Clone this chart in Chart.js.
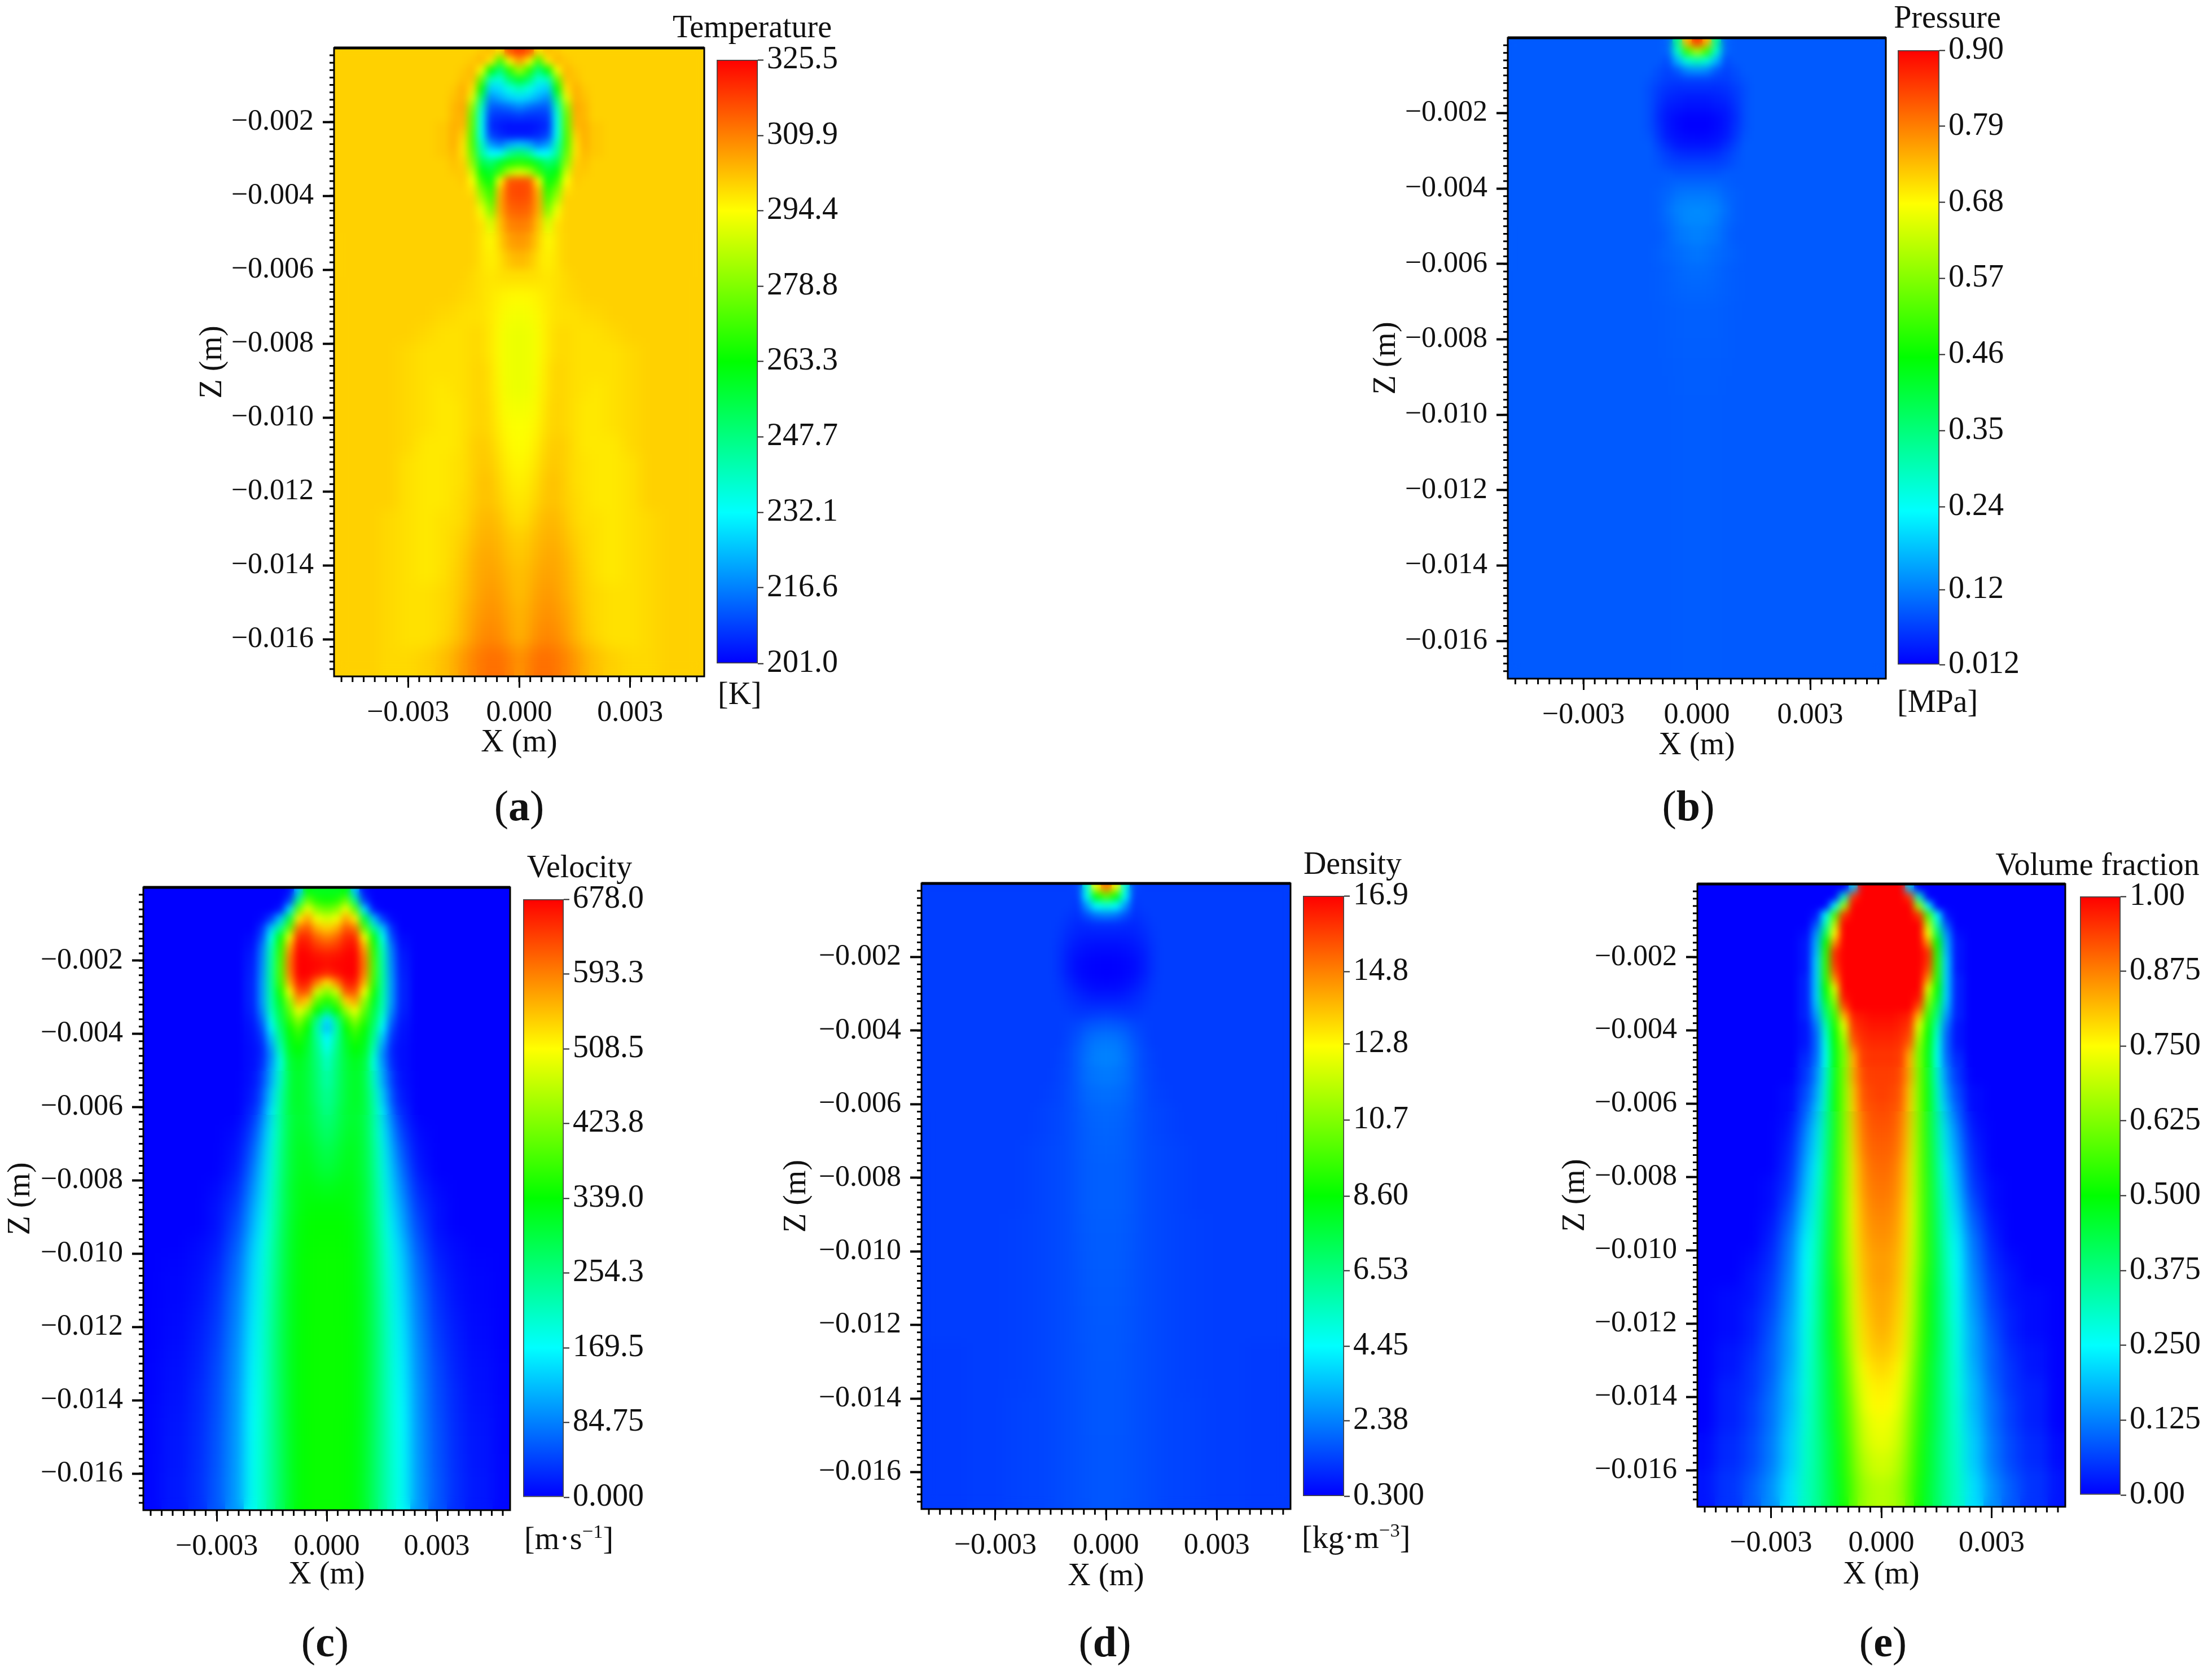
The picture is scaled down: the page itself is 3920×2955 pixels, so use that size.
<!DOCTYPE html>
<html>
<head>
<meta charset="utf-8">
<style>
    html, body { margin: 0; padding: 0; background: #fff; }
    body { position: relative; width: 3920px; height: 2955px; overflow: hidden; font-family: "Liberation Serif", serif; color: #111; }
    canvas { position: absolute; }
    .txt { position: absolute; white-space: nowrap; line-height: 1; }
    .txt sup { font-size: 0.62em; line-height: 0; }
</style>
<script src="https://cdn.jsdelivr.net/npm/chart.js@4/dist/chart.umd.min.js"></script>
</head>
<body>
<script>
// half of the field (the jet is symmetric around x = 0)
const xCols = [0, 0.00025, 0.0005, 0.00075, 0.001, 0.00125, 0.0015, 0.00175, 0.002, 0.0025, 0.003, 0.0035, 0.004, 0.005];
const zRows = [-0.000125, -0.000375, -0.000625, -0.000875, -0.001125, -0.001375, -0.001625, -0.001875, -0.002125, -0.002375,
    -0.002625, -0.002875, -0.003125, -0.003375, -0.003625, -0.003875, -0.004125, -0.004375, -0.004625, -0.004875,
    -0.00525, -0.00575, -0.00625, -0.00675, -0.00725, -0.00775, -0.00825, -0.00875, -0.00925, -0.00975, -0.01025, -0.01075,
    -0.01125, -0.01175, -0.01225, -0.01275, -0.01325, -0.01375, -0.01425, -0.01475, -0.01525, -0.01575, -0.01625, -0.01675];

// a row can stop early: the last number holds out to the edge of the plot
const temperature = [
    [318, 315, 298, 302, 301, 300],
    [306, 295, 270, 297, 303, 301, 300],
    [282, 268, 248, 262, 293, 303, 301, 300],
    [258, 250, 236, 240, 275, 302, 302, 300],
    [240, 235, 228, 226, 262, 298, 304, 301, 300],
    [228, 226, 222, 218, 250, 290, 304, 302, 300],
    [217, 214, 212, 212, 240, 280, 305, 303, 300],
    [208, 207, 207, 208, 235, 275, 304, 303, 300],
    [203, 203, 204, 206, 234, 274, 303, 304, 301, 300],
    [204, 204, 206, 209, 234, 272, 300, 304, 301, 300],
    [225, 222, 215, 220, 240, 272, 298, 304, 301, 300],
    [250, 245, 232, 232, 245, 275, 298, 303, 301, 300],
    [268, 266, 258, 250, 255, 280, 300, 302, 300],
    [290, 285, 270, 258, 262, 288, 301, 301, 300],
    [316, 315, 295, 262, 270, 294, 301, 300],
    [317, 316, 303, 268, 278, 298, 300],
    [316, 315, 305, 272, 285, 300],
    [314, 313, 305, 278, 292, 300],
    [312, 311, 303, 285, 296, 300],
    [310, 309, 302, 290, 298, 300],
    [307, 306, 300, 294, 298, 300],
    [303, 302, 298, 296, 298, 300],
    [298, 298, 298, 297, 298, 299, 300],
    [295, 295, 296, 297, 298, 299, 299, 300],
    [293, 293, 295, 297, 298, 298, 298, 299, 299, 300],
    [292, 292, 294, 297, 299, 299, 298, 298, 298, 299, 300],
    [292, 292, 294, 297, 299, 299, 298, 298, 298, 298, 299, 300],
    [292, 292, 294, 298, 300, 299, 298, 298, 298, 298, 299, 300],
    [292, 292, 295, 298, 300, 299, 298, 298, 297, 298, 299, 300],
    [293, 293, 295, 299, 300, 299, 298, 297, 297, 298, 299, 300],
    [294, 294, 296, 299, 300, 299, 298, 297, 297, 298, 299, 300],
    [294, 295, 297, 300, 301, 300, 298, 297, 297, 297, 299, 300],
    [295, 296, 298, 301, 301, 300, 298, 298, 297, 297, 298, 300],
    [296, 297, 299, 302, 302, 300, 298, 298, 297, 297, 298, 300],
    [297, 298, 300, 302, 302, 300, 299, 298, 297, 297, 298, 300],
    [298, 299, 302, 303, 303, 301, 299, 298, 298, 297, 298, 299, 300],
    [300, 301, 303, 304, 304, 302, 300, 299, 298, 297, 298, 299, 300],
    [301, 302, 304, 305, 305, 303, 301, 299, 298, 297, 298, 299, 300],
    [302, 303, 305, 306, 305, 304, 301, 300, 298, 297, 298, 299, 300],
    [302, 304, 306, 307, 306, 304, 302, 300, 299, 298, 298, 299, 300],
    [303, 305, 307, 308, 307, 305, 303, 300, 299, 298, 298, 299, 300],
    [303, 306, 308, 309, 308, 306, 303, 301, 299, 298, 298, 299, 300],
    [304, 307, 309, 310, 309, 307, 304, 302, 300, 298, 298, 299, 300],
    [307, 310, 312, 312, 311, 309, 307, 304, 302, 300, 299, 299, 300]
];

const pressure = [
    [0.85, 0.74, 0.33, 0.1, 0.09],
    [0.6, 0.5, 0.28, 0.1, 0.09],
    [0.3, 0.27, 0.17, 0.08, 0.09],
    [0.14, 0.13, 0.09, 0.07, 0.08, 0.09],
    [0.07, 0.07, 0.065, 0.065, 0.075, 0.085, 0.09],
    [0.05, 0.05, 0.05, 0.055, 0.065, 0.08, 0.09],
    [0.035, 0.035, 0.04, 0.045, 0.06, 0.08, 0.09],
    [0.025, 0.025, 0.03, 0.035, 0.055, 0.08, 0.09],
    [0.015, 0.015, 0.02, 0.03, 0.05, 0.08, 0.09],
    [0.012, 0.012, 0.02, 0.03, 0.055, 0.08, 0.09],
    [0.018, 0.02, 0.025, 0.035, 0.06, 0.085, 0.09],
    [0.03, 0.03, 0.035, 0.05, 0.07, 0.09],
    [0.05, 0.05, 0.055, 0.065, 0.08, 0.09],
    [0.07, 0.07, 0.07, 0.075, 0.085, 0.09],
    [0.085, 0.085, 0.085, 0.09],
    [0.1, 0.1, 0.1, 0.095, 0.09],
    [0.115, 0.115, 0.11, 0.1, 0.095, 0.09],
    [0.125, 0.125, 0.12, 0.105, 0.095, 0.09],
    [0.135, 0.13, 0.125, 0.11, 0.095, 0.09],
    [0.13, 0.13, 0.12, 0.105, 0.095, 0.09],
    [0.125, 0.12, 0.115, 0.1, 0.09],
    [0.115, 0.11, 0.105, 0.1, 0.095, 0.09],
    [0.105, 0.105, 0.1, 0.095, 0.092, 0.09],
    [0.1, 0.1, 0.098, 0.095, 0.092, 0.09],
    [0.096, 0.096, 0.095, 0.093, 0.091, 0.09],
    [0.095, 0.095, 0.094, 0.092, 0.09],
    [0.094, 0.094, 0.093, 0.092, 0.09],
    [0.093, 0.093, 0.092, 0.091, 0.09],
    [0.093, 0.093, 0.092, 0.09],
    [0.092, 0.092, 0.091, 0.09],
    [0.092, 0.092, 0.091, 0.09],
    [0.092, 0.092, 0.091, 0.09],
    [0.092, 0.092, 0.091, 0.09],
    [0.092, 0.092, 0.091, 0.09],
    [0.092, 0.092, 0.091, 0.09],
    [0.092, 0.092, 0.091, 0.09],
    [0.092, 0.092, 0.091, 0.09],
    [0.092, 0.092, 0.091, 0.09],
    [0.092, 0.092, 0.091, 0.09],
    [0.092, 0.092, 0.091, 0.09],
    [0.092, 0.092, 0.091, 0.09],
    [0.092, 0.092, 0.091, 0.09],
    [0.092, 0.092, 0.091, 0.09],
    [0.092, 0.092, 0.091, 0.09]
];

const velocity = [
    [320, 320, 330, 130, 10, 0],
    [350, 360, 410, 250, 40, 0],
    [410, 430, 500, 400, 150, 15, 0],
    [480, 500, 570, 520, 300, 130, 40, 5, 0],
    [540, 560, 620, 600, 400, 240, 130, 30, 0],
    [590, 610, 650, 650, 500, 330, 180, 50, 5, 0],
    [630, 640, 665, 670, 560, 360, 210, 75, 10, 0],
    [660, 665, 675, 678, 590, 375, 225, 85, 15, 0],
    [670, 675, 678, 678, 600, 385, 230, 90, 18, 0],
    [650, 665, 678, 678, 590, 385, 235, 95, 20, 0],
    [530, 590, 660, 660, 560, 375, 235, 100, 22, 0],
    [430, 480, 620, 625, 500, 350, 230, 100, 22, 0],
    [360, 400, 540, 570, 440, 320, 225, 100, 22, 0],
    [280, 340, 440, 500, 400, 300, 215, 90, 20, 0],
    [150, 260, 370, 440, 370, 285, 190, 70, 15, 0],
    [130, 230, 340, 390, 345, 265, 160, 50, 12, 0],
    [165, 240, 320, 360, 330, 245, 130, 35, 10, 0],
    [185, 250, 310, 340, 320, 225, 105, 25, 8, 0],
    [205, 255, 305, 330, 310, 205, 90, 25, 8, 0],
    [215, 260, 300, 320, 300, 195, 100, 30, 8, 0],
    [225, 265, 300, 315, 300, 205, 115, 40, 10, 0],
    [240, 270, 300, 315, 300, 225, 140, 55, 15, 0],
    [250, 280, 305, 310, 300, 235, 160, 75, 25, 0],
    [265, 290, 310, 315, 300, 240, 170, 100, 40, 5, 0],
    [285, 300, 320, 320, 300, 250, 180, 120, 55, 10, 0],
    [300, 310, 325, 320, 300, 255, 185, 135, 70, 15, 0],
    [320, 325, 330, 325, 305, 260, 195, 145, 85, 25, 5, 0],
    [335, 335, 335, 325, 305, 260, 205, 155, 100, 35, 10, 0],
    [340, 340, 340, 330, 310, 265, 210, 165, 110, 45, 10, 0],
    [342, 342, 340, 332, 312, 270, 220, 175, 125, 55, 15, 5, 0],
    [345, 344, 342, 333, 313, 272, 225, 180, 135, 65, 22, 8, 2, 0],
    [345, 344, 342, 333, 314, 275, 228, 185, 140, 72, 28, 10, 3, 0],
    [345, 345, 342, 335, 315, 278, 232, 188, 145, 78, 32, 12, 4, 0],
    [345, 345, 342, 335, 315, 278, 235, 190, 150, 82, 36, 15, 5, 0],
    [345, 345, 343, 335, 316, 280, 238, 192, 155, 86, 40, 18, 6, 0],
    [345, 345, 343, 336, 316, 280, 238, 195, 158, 90, 44, 20, 8, 1],
    [345, 345, 343, 336, 316, 280, 238, 197, 162, 92, 48, 22, 9, 2],
    [345, 345, 343, 336, 315, 278, 238, 198, 165, 95, 50, 25, 10, 2],
    [345, 345, 343, 336, 315, 278, 238, 200, 168, 96, 52, 26, 12, 3],
    [345, 345, 342, 336, 314, 277, 238, 202, 170, 97, 54, 27, 13, 3],
    [345, 345, 342, 335, 313, 276, 238, 203, 172, 98, 55, 28, 14, 3],
    [345, 345, 342, 335, 313, 275, 238, 204, 173, 99, 56, 29, 14, 4],
    [345, 345, 342, 335, 312, 275, 238, 205, 175, 100, 58, 30, 15, 4],
    [345, 345, 342, 335, 312, 275, 238, 205, 175, 100, 58, 30, 15, 4]
];

const density = [
    [15, 12.5, 5, 1.4, 1.3],
    [10, 8.5, 4.5, 1.3],
    [5, 4.5, 2.8, 1.2, 1.3],
    [2.4, 2.2, 1.6, 1.1, 1.2, 1.3],
    [1.1, 1.1, 1, 0.95, 1.1, 1.25, 1.3],
    [0.8, 0.8, 0.8, 0.85, 1, 1.2, 1.3],
    [0.6, 0.6, 0.62, 0.7, 0.9, 1.15, 1.3],
    [0.45, 0.45, 0.5, 0.6, 0.8, 1.1, 1.3],
    [0.33, 0.35, 0.4, 0.5, 0.75, 1.1, 1.3],
    [0.3, 0.32, 0.38, 0.5, 0.75, 1.1, 1.3],
    [0.35, 0.38, 0.45, 0.6, 0.85, 1.15, 1.3],
    [0.5, 0.5, 0.6, 0.75, 1, 1.2, 1.3],
    [0.75, 0.75, 0.8, 0.95, 1.1, 1.25, 1.3],
    [1.05, 1.05, 1.05, 1.1, 1.2, 1.3],
    [1.4, 1.35, 1.3, 1.25, 1.3],
    [1.8, 1.75, 1.65, 1.45, 1.35, 1.3],
    [2.1, 2.05, 1.9, 1.6, 1.4, 1.3],
    [2.3, 2.25, 2.05, 1.7, 1.45, 1.3],
    [2.4, 2.35, 2.1, 1.8, 1.5, 1.35, 1.3],
    [2.4, 2.35, 2.15, 1.8, 1.5, 1.35, 1.3],
    [2.3, 2.2, 2.1, 1.8, 1.5, 1.4, 1.3],
    [2.1, 2.05, 2, 1.75, 1.55, 1.4, 1.35, 1.3],
    [2, 1.95, 1.9, 1.7, 1.55, 1.45, 1.4, 1.35, 1.3],
    [1.95, 1.9, 1.85, 1.7, 1.55, 1.45, 1.4, 1.35, 1.3],
    [1.9, 1.88, 1.82, 1.7, 1.55, 1.5, 1.45, 1.4, 1.35, 1.3],
    [1.85, 1.85, 1.8, 1.7, 1.55, 1.5, 1.45, 1.4, 1.35, 1.3],
    [1.85, 1.85, 1.8, 1.7, 1.55, 1.5, 1.45, 1.4, 1.35, 1.3],
    [1.85, 1.85, 1.8, 1.7, 1.55, 1.5, 1.45, 1.4, 1.35, 1.3],
    [1.82, 1.82, 1.78, 1.68, 1.55, 1.5, 1.45, 1.4, 1.38, 1.32, 1.3],
    [1.8, 1.8, 1.76, 1.66, 1.55, 1.5, 1.45, 1.4, 1.38, 1.32, 1.3],
    [1.8, 1.8, 1.75, 1.65, 1.55, 1.5, 1.45, 1.4, 1.38, 1.32, 1.3],
    [1.78, 1.78, 1.74, 1.64, 1.55, 1.5, 1.45, 1.4, 1.38, 1.33, 1.3],
    [1.76, 1.76, 1.72, 1.63, 1.55, 1.5, 1.45, 1.4, 1.38, 1.33, 1.3],
    [1.75, 1.75, 1.7, 1.62, 1.55, 1.5, 1.45, 1.4, 1.38, 1.33, 1.3],
    [1.74, 1.74, 1.7, 1.62, 1.55, 1.5, 1.45, 1.4, 1.38, 1.33, 1.3],
    [1.73, 1.73, 1.68, 1.61, 1.55, 1.5, 1.45, 1.4, 1.38, 1.33, 1.3, 1.3, 1.25],
    [1.72, 1.72, 1.68, 1.61, 1.55, 1.5, 1.45, 1.4, 1.38, 1.33, 1.3, 1.3, 1.25],
    [1.72, 1.72, 1.67, 1.6, 1.55, 1.5, 1.45, 1.4, 1.38, 1.34, 1.3, 1.3, 1.25],
    [1.71, 1.71, 1.66, 1.6, 1.55, 1.5, 1.45, 1.4, 1.4, 1.35, 1.3, 1.3, 1.25],
    [1.71, 1.71, 1.66, 1.6, 1.55, 1.5, 1.45, 1.4, 1.4, 1.35, 1.3, 1.3, 1.25],
    [1.7, 1.7, 1.65, 1.6, 1.55, 1.5, 1.45, 1.4, 1.4, 1.35, 1.3, 1.3, 1.25],
    [1.7, 1.7, 1.65, 1.6, 1.55, 1.5, 1.45, 1.4, 1.4, 1.35, 1.3, 1.3, 1.25],
    [1.7, 1.7, 1.65, 1.6, 1.55, 1.5, 1.45, 1.4, 1.4, 1.35, 1.3, 1.3, 1.25],
    [1.7, 1.7, 1.65, 1.6, 1.55, 1.5, 1.45, 1.4, 1.4, 1.35, 1.3, 1.3, 1.25]
];

const fraction = [
    [1, 1, 1, 0.2, 0],
    [1, 1, 1, 0.95, 0.3, 0],
    [1, 1, 1, 1, 0.65, 0.25, 0],
    [1, 1, 1, 1, 0.95, 0.57, 0.25, 0.02, 0],
    [1, 1, 1, 1, 1, 0.68, 0.33, 0.08, 0],
    [1, 1, 1, 1, 1, 0.75, 0.42, 0.14, 0.01, 0],
    [1, 1, 1, 1, 1, 0.85, 0.5, 0.17, 0.02, 0],
    [1, 1, 1, 1, 1, 0.95, 0.53, 0.18, 0.02, 0],
    [1, 1, 1, 1, 1, 0.95, 0.54, 0.2, 0.02, 0],
    [1, 1, 1, 1, 1, 0.92, 0.54, 0.2, 0.02, 0],
    [1, 1, 1, 1, 1, 0.85, 0.53, 0.2, 0.03, 0],
    [1, 1, 1, 1, 1, 0.72, 0.5, 0.2, 0.03, 0],
    [1, 1, 1, 1, 0.98, 0.66, 0.47, 0.2, 0.03, 0],
    [1, 1, 1, 1, 0.92, 0.6, 0.42, 0.18, 0.03, 0],
    [0.99, 0.99, 0.98, 0.97, 0.82, 0.55, 0.38, 0.15, 0.03, 0],
    [0.98, 0.98, 0.97, 0.95, 0.72, 0.52, 0.33, 0.12, 0.02, 0],
    [0.97, 0.97, 0.96, 0.93, 0.68, 0.5, 0.3, 0.1, 0.02, 0],
    [0.96, 0.96, 0.95, 0.9, 0.64, 0.49, 0.28, 0.1, 0.02, 0],
    [0.95, 0.95, 0.94, 0.85, 0.62, 0.48, 0.27, 0.1, 0.03, 0],
    [0.95, 0.95, 0.94, 0.83, 0.62, 0.48, 0.27, 0.11, 0.04, 0],
    [0.94, 0.94, 0.93, 0.83, 0.62, 0.49, 0.28, 0.13, 0.05, 0],
    [0.94, 0.93, 0.92, 0.8, 0.62, 0.5, 0.3, 0.16, 0.07, 0.01, 0],
    [0.93, 0.92, 0.91, 0.79, 0.62, 0.5, 0.32, 0.19, 0.09, 0.01, 0],
    [0.92, 0.91, 0.9, 0.78, 0.62, 0.5, 0.33, 0.22, 0.12, 0.02, 0],
    [0.91, 0.9, 0.89, 0.77, 0.62, 0.51, 0.35, 0.23, 0.14, 0.03, 0],
    [0.9, 0.89, 0.87, 0.76, 0.62, 0.51, 0.37, 0.25, 0.16, 0.04, 0],
    [0.89, 0.88, 0.86, 0.76, 0.62, 0.52, 0.38, 0.27, 0.18, 0.05, 0.01, 0],
    [0.88, 0.87, 0.85, 0.75, 0.62, 0.52, 0.39, 0.29, 0.2, 0.07, 0.01, 0],
    [0.87, 0.86, 0.84, 0.75, 0.62, 0.52, 0.4, 0.3, 0.22, 0.09, 0.02, 0],
    [0.86, 0.85, 0.83, 0.74, 0.62, 0.52, 0.41, 0.31, 0.24, 0.11, 0.03, 0],
    [0.85, 0.84, 0.82, 0.73, 0.62, 0.52, 0.42, 0.32, 0.25, 0.12, 0.04, 0.01, 0],
    [0.85, 0.84, 0.81, 0.72, 0.61, 0.51, 0.42, 0.33, 0.25, 0.13, 0.05, 0.02, 0],
    [0.84, 0.83, 0.8, 0.72, 0.6, 0.5, 0.42, 0.34, 0.26, 0.14, 0.06, 0.02, 0.01, 0],
    [0.84, 0.82, 0.79, 0.71, 0.6, 0.5, 0.42, 0.34, 0.26, 0.15, 0.07, 0.03, 0.01, 0],
    [0.83, 0.81, 0.78, 0.7, 0.59, 0.5, 0.42, 0.35, 0.27, 0.16, 0.08, 0.03, 0.01, 0],
    [0.81, 0.8, 0.77, 0.69, 0.58, 0.49, 0.42, 0.35, 0.27, 0.16, 0.09, 0.04, 0.02, 0],
    [0.79, 0.78, 0.75, 0.67, 0.57, 0.48, 0.41, 0.35, 0.28, 0.17, 0.09, 0.05, 0.02, 0],
    [0.77, 0.76, 0.73, 0.66, 0.56, 0.48, 0.41, 0.35, 0.28, 0.18, 0.1, 0.05, 0.03, 0],
    [0.76, 0.75, 0.72, 0.64, 0.55, 0.47, 0.41, 0.35, 0.29, 0.18, 0.11, 0.06, 0.03, 0],
    [0.74, 0.73, 0.7, 0.63, 0.54, 0.47, 0.41, 0.35, 0.29, 0.19, 0.11, 0.06, 0.03, 0],
    [0.73, 0.72, 0.69, 0.62, 0.53, 0.46, 0.4, 0.35, 0.3, 0.2, 0.12, 0.07, 0.04, 0.01],
    [0.71, 0.7, 0.67, 0.61, 0.52, 0.46, 0.4, 0.35, 0.3, 0.2, 0.12, 0.07, 0.04, 0.01],
    [0.7, 0.69, 0.66, 0.6, 0.52, 0.46, 0.4, 0.35, 0.31, 0.21, 0.13, 0.08, 0.05, 0.02],
    [0.68, 0.67, 0.65, 0.59, 0.51, 0.45, 0.4, 0.35, 0.31, 0.22, 0.14, 0.09, 0.05, 0.02]
];

const xTicks = [-0.003, 0, 0.003];
const zTicks = [-0.002, -0.004, -0.006, -0.008, -0.01, -0.012, -0.014, -0.016];
const temperatureTicks = ["325.5", "309.9", "294.4", "278.8", "263.3", "247.7", "232.1", "216.6", "201.0"];
const pressureTicks = ["0.90", "0.79", "0.68", "0.57", "0.46", "0.35", "0.24", "0.12", "0.012"];
const velocityTicks = ["678.0", "593.3", "508.5", "423.8", "339.0", "254.3", "169.5", "84.75", "0.000"];
const densityTicks = ["16.9", "14.8", "12.8", "10.7", "8.60", "6.53", "4.45", "2.38", "0.300"];
const fractionTicks = ["1.00", "0.875", "0.750", "0.625", "0.500", "0.375", "0.250", "0.125", "0.00"];

// where each panel sits on the page
const panels = [
    { field: temperature, ticks: temperatureTicks, plot: [592, 1248, 85, 1199], bar: [1270, 1343, 106, 1176], zX: 377, xY: 1317, title: "Temperature", titleAt: [1333, 47], unit: "[K]", unitAt: [1272, 1229], cap: "a", capAt: [920, 1428] },
    { field: pressure, ticks: pressureTicks, plot: [2672, 3342, 67, 1203], bar: [3363, 3437, 89, 1178], zX: 2457, xY: 1322, title: "Pressure", titleAt: [3451, 30], unit: "[MPa]", unitAt: [3362, 1243], cap: "b", capAt: [2992, 1428] },
    { field: velocity, ticks: velocityTicks, plot: [254, 904, 1573, 2677], bar: [927, 999, 1594, 2654], zX: 37, xY: 2792, title: "Velocity", titleAt: [1027, 1536], unit: "[m·s<sup>−1</sup>]", unitAt: [929, 2727], cap: "c", capAt: [576, 2910] },
    { field: density, ticks: densityTicks, plot: [1633, 2287, 1566, 2675], bar: [2309, 2382, 1588, 2652], zX: 1412, xY: 2795, title: "Density", titleAt: [2397, 1530], unit: "[kg·m<sup>−3</sup>]", unitAt: [2307, 2725], cap: "d", capAt: [1958, 2910] },
    { field: fraction, ticks: fractionTicks, plot: [3008, 3660, 1567, 2671], bar: [3686, 3758, 1589, 2650], zX: 2792, xY: 2792, title: "Volume fraction", titleAt: [3717, 1532], unit: "", unitAt: [3686, 2727], cap: "e", capAt: [3337, 2910] }
];

const FONT = "'Liberation Serif', serif";
const INK = "#111";

// rainbow colour map of the plots: blue, cyan, green, yellow, red
function rainbow(t) {
    t = Math.min(1, Math.max(0, t));
    let r = 0, g = 0, b = 0;
    if (t < 0.25) { g = t / 0.25; b = 1; }
    else if (t < 0.5) { g = 1; b = 1 - (t - 0.25) / 0.25; }
    else if (t < 0.75) { r = (t - 0.5) / 0.25; g = 1; }
    else { r = 1; g = 1 - (t - 0.75) / 0.25; }
    return `rgb(${Math.round(r * 255)},${Math.round(g * 255)},${Math.round(b * 255)})`;
}

// one small canvas per colour and size, Chart.js draws these as point styles
const cellCache = {};
function cellImage(color, w, h) {
    const key = color + "|" + w + "|" + h;
    if (!cellCache[key]) {
        const c = document.createElement("canvas");
        c.width = w;
        c.height = h;
        const g = c.getContext("2d");
        g.fillStyle = color;
        g.fillRect(0, 0, w, h);
        cellCache[key] = c;
    }
    return cellCache[key];
}

function halfSizes(centers, lastHalf) {
    // images are centred on the point, so take the larger gap to a neighbour
    return centers.map((c, i) => {
        const before = i === 0 ? 0 : Math.abs(c - centers[i - 1]) / 2;
        const after = i === centers.length - 1 ? lastHalf : Math.abs(centers[i + 1] - c) / 2;
        return Math.max(before, after);
    });
}

function cellsFor(field) {
    const points = [];
    const xHalf = halfSizes(xCols, 0.0005);
    const zHalf = halfSizes(zRows, 0.0005);
    field.forEach((row, r) => {
        xCols.forEach((x, c) => {
            const v = c < row.length ? row[c] : row[row.length - 1];
            points.push({ x: x, y: zRows[r], v: v, hx: xHalf[c], hz: zHalf[r] });
            if (x !== 0) {
                points.push({ x: -x, y: zRows[r], v: v, hx: xHalf[c], hz: zHalf[r] });
            }
        });
    });
    // far cells first so the finer ones near the axis stay on top
    return points.sort((a, b) => Math.abs(b.x) - Math.abs(a.x));
}

// the picture is smooth, so soften the cells after the library has drawn them
const smoothCells = {
    id: "smoothCells",
    afterDatasetsDraw(chart) {
        const a = chart.chartArea;
        const w = Math.round(a.right - a.left);
        const h = Math.round(a.bottom - a.top);
        const copy = document.createElement("canvas");
        copy.width = w;
        copy.height = h;
        copy.getContext("2d").drawImage(chart.canvas, a.left, a.top, w, h, 0, 0, w, h);
        const y5 = chart.scales.y.getPixelForValue(-0.005);
        const y6 = chart.scales.y.getPixelForValue(-0.0062);
        const ctx = chart.ctx;
        [[a.top, y5, 7], [y5, y6, 9], [y6, a.bottom, 12]].forEach(zone => {
            ctx.save();
            ctx.beginPath();
            ctx.rect(a.left, zone[0], w, zone[1] - zone[0]);
            ctx.clip();
            ctx.filter = `blur(${zone[2]}px)`;
            ctx.drawImage(copy, a.left, a.top);
            ctx.restore();
        });
    }
};

// frame around the plot and the small ticks between the labelled ones
const frameAndMinorTicks = {
    id: "frameAndMinorTicks",
    afterDraw(chart) {
        const a = chart.chartArea;
        const ctx = chart.ctx;
        ctx.save();
        ctx.strokeStyle = "#000";
        ctx.lineWidth = 3;
        ctx.strokeRect(a.left, a.top, a.right - a.left, a.bottom - a.top);
        ctx.lineWidth = 5;
        ctx.beginPath();
        ctx.moveTo(a.left, a.top);
        ctx.lineTo(a.right, a.top);
        ctx.stroke();

        ctx.lineWidth = 3;
        ctx.beginPath();
        for (let i = -16; i <= 16; i++) {
            const px = chart.scales.x.getPixelForValue(i * 0.0003);
            ctx.moveTo(px, a.bottom);
            ctx.lineTo(px, a.bottom + 10);
        }
        for (let i = 1; i <= 84; i++) {
            const py = chart.scales.y.getPixelForValue(-i * 0.0002);
            ctx.moveTo(a.left, py);
            ctx.lineTo(a.left - 8, py);
        }
        ctx.stroke();
        ctx.restore();
    }
};

function addCanvas(left, top, width, height) {
    const c = document.createElement("canvas");
    c.width = width;
    c.height = height;
    c.style.left = left + "px";
    c.style.top = top + "px";
    document.body.appendChild(c);
    return c;
}

function addText(html, x, y, size, centered) {
    const d = document.createElement("div");
    d.className = "txt";
    d.innerHTML = html;
    d.style.left = x + "px";
    d.style.top = y + "px";
    d.style.fontSize = size + "px";
    d.style.transform = centered ? "translate(-50%, -50%)" : "translateY(-50%)";
    document.body.appendChild(d);
}

function drawField(p) {
    const min = parseFloat(p.ticks[p.ticks.length - 1]);
    const max = parseFloat(p.ticks[0]);
    const left = p.plot[0], right = p.plot[1], top = p.plot[2], bottom = p.plot[3];
    const wide = left - p.zX + 32;
    const tall = p.xY - bottom + 32;
    const canvas = addCanvas(left - wide, top - 10, wide + right - left + 6, bottom - top + 10 + tall);

    new Chart(canvas, {
        type: "scatter",
        data: {
            datasets: [{
                data: cellsFor(p.field),
                clip: 0,
                pointRadius: 1,
                pointHoverRadius: 1,
                pointStyle: ctx => {
                    const d = ctx.raw;
                    if (!d) return "rect";
                    const s = ctx.chart.scales;
                    const w = Math.ceil(Math.abs(s.x.getPixelForValue(d.x + d.hx) - s.x.getPixelForValue(d.x - d.hx))) + 2;
                    const h = Math.ceil(Math.abs(s.y.getPixelForValue(d.y + d.hz) - s.y.getPixelForValue(d.y - d.hz))) + 2;
                    return cellImage(rainbow((d.v - min) / (max - min)), w, h);
                }
            }]
        },
        options: {
            responsive: false,
            animation: false,
            devicePixelRatio: 1,
            layout: { padding: { top: 10, right: 6, left: 0, bottom: 0 } },
            plugins: { legend: { display: false }, tooltip: { enabled: false } },
            scales: {
                x: {
                    type: "linear",
                    min: -0.005,
                    max: 0.005,
                    afterFit: s => { s.height = tall; s.paddingLeft = 0; s.paddingRight = 0; },
                    afterBuildTicks: s => { s.ticks = xTicks.map(v => ({ value: v })); },
                    grid: { drawOnChartArea: false, tickLength: 20, tickWidth: 3, tickColor: "#000" },
                    border: { display: false },
                    ticks: {
                        color: INK,
                        padding: 14,
                        maxRotation: 0,
                        autoSkip: false,
                        font: { family: FONT, size: 52 },
                        callback: v => v.toFixed(3).replace("-", "−")
                    },
                    title: { display: true, text: "X (m)", color: INK, padding: 0, font: { family: FONT, size: 56, lineHeight: 1.15 } }
                },
                y: {
                    type: "linear",
                    min: -0.017,
                    max: 0,
                    afterFit: s => { s.width = wide; s.paddingTop = 0; s.paddingBottom = 0; },
                    afterBuildTicks: s => { s.ticks = zTicks.map(v => ({ value: v })); },
                    grid: { drawOnChartArea: false, tickLength: 20, tickWidth: 4, tickColor: "#000" },
                    border: { display: false },
                    ticks: {
                        color: INK,
                        padding: 16,
                        autoSkip: false,
                        font: { family: FONT, size: 52 },
                        callback: v => v.toFixed(3).replace("-", "−")
                    },
                    title: { display: true, text: "Z (m)", color: INK, padding: 0, font: { family: FONT, size: 56, lineHeight: 1.15 } }
                }
            }
        },
        plugins: [smoothCells, frameAndMinorTicks]
    });
}

function drawColorbar(p) {
    const min = parseFloat(p.ticks[p.ticks.length - 1]);
    const max = parseFloat(p.ticks[0]);
    const left = p.bar[0], right = p.bar[1], top = p.bar[2], bottom = p.bar[3];
    const axisWidth = 170;
    const canvas = addCanvas(left - 2, top - 45, right - left + 2 + axisWidth, bottom - top + 90);

    new Chart(canvas, {
        type: "bar",
        data: {
            labels: [p.title],
            datasets: [{
                data: [[min, max]],
                barPercentage: 1,
                categoryPercentage: 1,
                borderColor: "#444",
                borderWidth: 2,
                borderSkipped: false,
                backgroundColor: ctx => {
                    const a = ctx.chart.chartArea;
                    if (!a) return "#00f";
                    const g = ctx.chart.ctx.createLinearGradient(0, a.bottom, 0, a.top);
                    for (let i = 0; i <= 8; i++) g.addColorStop(i / 8, rainbow(i / 8));
                    return g;
                }
            }]
        },
        options: {
            responsive: false,
            animation: false,
            devicePixelRatio: 1,
            layout: { padding: { top: 45, bottom: 45, left: 2, right: 0 } },
            plugins: { legend: { display: false }, tooltip: { enabled: false } },
            scales: {
                x: { display: false },
                y: {
                    position: "right",
                    min: min,
                    max: max,
                    afterFit: s => { s.width = axisWidth; s.paddingTop = 0; s.paddingBottom = 0; },
                    afterBuildTicks: s => { s.ticks = p.ticks.map(t => ({ value: parseFloat(t) })); },
                    grid: { drawOnChartArea: false, tickLength: 10, tickWidth: 2, tickColor: "#222" },
                    border: { display: false },
                    ticks: {
                        color: INK,
                        padding: 6,
                        autoSkip: false,
                        font: { family: FONT, size: 56 },
                        callback: (v, i) => p.ticks[i]
                    }
                }
            }
        }
    });
}

panels.forEach(p => {
    drawField(p);
    drawColorbar(p);
    addText(p.title, p.titleAt[0], p.titleAt[1], 56, true);
    if (p.unit) addText(p.unit, p.unitAt[0], p.unitAt[1], 56, false);
    addText("(<b>" + p.cap + "</b>)", p.capAt[0], p.capAt[1], 76, true);
});
</script>
</body>
</html>
